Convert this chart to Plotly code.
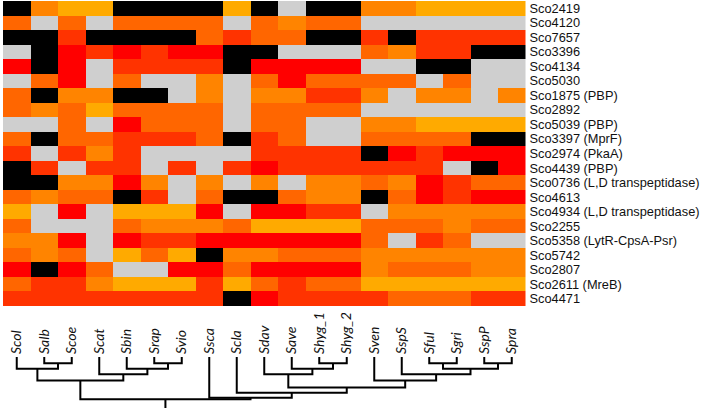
"""
Heatmap of cell wall genes across Streptomyces species, with the species tree below.
"""

import plotly.graph_objects as go

species = ["Scol", "Salb", "Scoe", "Scat", "Sbin", "Srap", "Svio", "Ssca", "Scla",
           "Sdav", "Save", "Shyg_1", "Shyg_2", "Sven", "SspS", "Sful", "Sgri",
           "SspP", "Spra"]

genes = ["Sco2419", "Sco4120", "Sco7657", "Sco3396", "Sco4134", "Sco5030",
         "Sco1875 (PBP)", "Sco2892", "Sco5039 (PBP)", "Sco3397 (MprF)",
         "Sco2974 (PkaA)", "Sco4439 (PBP)", "Sco0736 (L,D transpeptidase)",
         "Sco4613", "Sco4934 (L,D transpeptidase)", "Sco2255",
         "Sco5358 (LytR-CpsA-Psr)", "Sco5742", "Sco2807", "Sco2611 (MreB)",
         "Sco4471"]

# colour class of each cell, one list per gene (0 black ... 6 yellow)
levels = [
    [0, 5, 6, 6, 0, 0, 0, 0, 6, 0, 1, 0, 0, 5, 5, 6, 6, 6, 6],
    [4, 1, 4, 1, 4, 4, 4, 4, 1, 4, 5, 4, 4, 1, 1, 1, 1, 1, 1],
    [0, 0, 3, 0, 0, 0, 0, 4, 3, 4, 4, 0, 0, 3, 0, 3, 3, 3, 3],
    [1, 0, 2, 3, 2, 3, 2, 2, 0, 0, 1, 1, 1, 4, 5, 3, 3, 0, 0],
    [2, 0, 2, 1, 3, 3, 3, 3, 0, 2, 2, 2, 2, 1, 1, 0, 0, 1, 1],
    [1, 4, 2, 1, 4, 1, 1, 5, 1, 4, 2, 4, 4, 4, 4, 1, 4, 1, 1],
    [4, 0, 5, 5, 0, 0, 1, 5, 1, 5, 5, 3, 3, 5, 1, 5, 5, 1, 5],
    [4, 5, 4, 6, 4, 4, 4, 4, 1, 4, 4, 4, 4, 1, 1, 1, 1, 1, 1],
    [1, 1, 4, 1, 2, 4, 4, 4, 1, 4, 4, 1, 1, 5, 5, 6, 6, 6, 6],
    [4, 0, 4, 4, 3, 3, 3, 4, 0, 3, 4, 1, 1, 4, 4, 4, 4, 0, 0],
    [3, 1, 3, 5, 3, 1, 1, 1, 1, 3, 3, 3, 3, 0, 2, 3, 2, 2, 2],
    [0, 3, 1, 3, 3, 1, 3, 1, 3, 2, 3, 3, 3, 3, 3, 3, 1, 0, 2],
    [0, 0, 5, 5, 2, 5, 1, 5, 1, 5, 1, 5, 5, 4, 5, 2, 3, 4, 4],
    [4, 5, 4, 4, 0, 3, 1, 4, 0, 0, 4, 5, 5, 0, 4, 2, 3, 2, 2],
    [6, 1, 2, 1, 6, 6, 6, 2, 1, 2, 2, 3, 3, 1, 5, 5, 5, 5, 5],
    [4, 1, 1, 1, 4, 5, 5, 5, 4, 6, 6, 6, 6, 4, 4, 4, 5, 4, 4],
    [5, 5, 2, 1, 2, 3, 3, 2, 2, 2, 2, 2, 2, 4, 1, 3, 4, 1, 1],
    [4, 5, 4, 1, 6, 4, 6, 0, 5, 5, 4, 4, 4, 5, 5, 5, 5, 5, 5],
    [2, 0, 2, 4, 1, 1, 2, 2, 4, 2, 2, 2, 2, 5, 4, 4, 4, 5, 5],
    [4, 3, 3, 5, 6, 6, 6, 3, 6, 4, 3, 4, 4, 6, 6, 6, 6, 6, 6],
    [3, 3, 3, 3, 3, 3, 3, 3, 0, 2, 3, 3, 3, 3, 4, 4, 4, 3, 3],
]

level_colors = ["#000000", "#cfcfcf", "#ff0000", "#ff3300", "#ff6600",
                "#ff8400", "#ffaa00"]

# tree: (node, child a, child b, height)
merges = [
    ("n1", "Salb", "Scoe", 6),
    ("n2", "Scol", "n1", 11.5),
    ("n3", "Srap", "Svio", 6),
    ("n4", "Sbin", "n3", 11.5),
    ("n5", "Scat", "n4", 17),
    ("n6", "n2", "n5", 23),
    ("n7", "Shyg_1", "Shyg_2", 6),
    ("n8", "Save", "n7", 11.5),
    ("n9", "Sdav", "n8", 17),
    ("n10", "Sful", "Sgri", 6),
    ("n11", "SspP", "Spra", 6),
    ("n12", "n10", "n11", 11.5),
    ("n13", "SspS", "n12", 17),
    ("n14", "Sven", "n13", 23),
    ("n15", "n9", "n14", 30),
    ("n16", "Scla", "n15", 35),
    ("n17", "Ssca", "n16", 40),
    ("n18", "n6", "n17", 41.5),
]
root_height = 50

# stepped colour scale for the discrete classes
n = len(level_colors)
scale = []
for i, c in enumerate(level_colors):
    scale.append([i / n, c])
    scale.append([(i + 1) / n, c])

fig = go.Figure()
fig.add_trace(go.Heatmap(
    z=levels, x=list(range(len(species))), y=list(range(len(genes))),
    colorscale=scale, zmin=-0.5, zmax=n - 0.5, showscale=False,
    xaxis="x", yaxis="y", hoverinfo="skip"))

# dendrogram lines
pos = {s: (i, 0) for i, s in enumerate(species)}
xs, ys = [], []
for node, a, b, h in merges:
    xa, ha = pos[a]
    xb, hb = pos[b]
    xs += [xa, xa, xb, xb, None]
    ys += [ha, h, h, hb, None]
    pos[node] = ((xa + xb) / 2, h)
xr, hr = pos[merges[-1][0]]
xs += [xr, xr]
ys += [hr, root_height]

fig.add_trace(go.Scatter(x=xs, y=ys, mode="lines", xaxis="x2", yaxis="y2",
                         line=dict(color="black", width=2), hoverinfo="skip"))

x_dom = [3 / 709, 525.5 / 709]
fig.update_layout(
    width=709, height=410, margin=dict(l=0, r=0, t=0, b=0),
    paper_bgcolor="white", plot_bgcolor="white", showlegend=False,
    xaxis=dict(domain=x_dom, range=[-0.5, 18.5], showticklabels=False,
               showgrid=False, zeroline=False, automargin=False, anchor="y"),
    yaxis=dict(domain=[1 - 306 / 410, 1 - 1 / 410], range=[20.5, -0.5],
               side="right", tickvals=list(range(len(genes))), ticktext=genes,
               tickfont=dict(family="Liberation Sans, Arial", size=12.8,
                             color="#111111"),
               ticks="", ticklabelstandoff=3, showgrid=False, zeroline=False,
               automargin=False, anchor="x"),
    xaxis2=dict(domain=x_dom, range=[-0.5, 18.5], side="top", anchor="y2",
                tickvals=list(range(len(species))), ticktext=species,
                tickangle=-90, ticks="",
                tickfont=dict(family="Lato, Open Sans", size=14,
                              style="italic", color="#111111"),
                showgrid=False, zeroline=False, automargin=False),
    yaxis2=dict(domain=[0, 1 - 355 / 410], range=[52, -2], visible=False,
                anchor="x2"),
)

fig.write_html("out.html", config={"displayModeBar": False},
               post_script="document.body.style.margin='0';")
